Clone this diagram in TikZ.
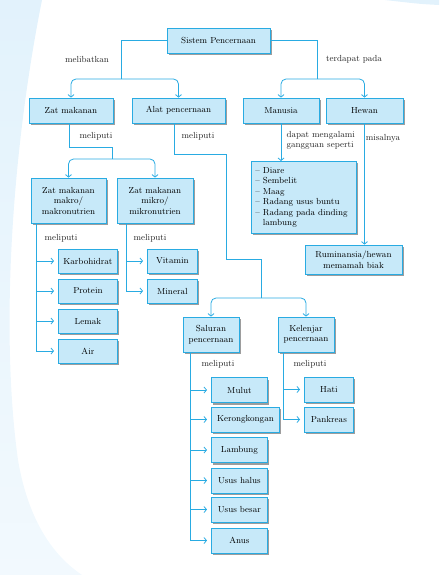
\documentclass[tikz,border=0pt]{standalone}
\usetikzlibrary{arrows.meta,shadows}
\definecolor{birumuda}{RGB}{199,233,249}
\definecolor{birugaris}{RGB}{41,171,226}
\definecolor{birulatar}{RGB}{226,242,252}

\begin{document}
\begin{tikzpicture}[x=1pt,y=-1pt,
    kotak/.style={draw=birugaris,fill=birumuda,line width=0.8pt,inner sep=1pt,align=center,
      font=\fontsize{8.8}{10.5}\selectfont,
      drop shadow={shadow xshift=2pt,shadow yshift=-2pt,opacity=0.55,fill=black!70}},
    ukuran/.style 2 args={minimum width=#1pt,minimum height=#2pt},
    garis/.style={draw=birugaris,line width=0.8pt},
    panah/.style={garis,-{Straight Barb[length=2.5pt,width=6pt]}},
    ket/.style={font=\fontsize{8.8}{10}\selectfont,text=black!85}]
    \useasboundingbox (0,0) rectangle (439,575);
    % latar
    \shade[top color=birulatar,bottom color=birulatar!45] (0,0) -- (42,0) .. controls (12,150) and (0,330) .. (18,460)
      .. controls (30,530) and (60,560) .. (82,575) -- (0,575) -- cycle;
    \fill[birulatar] (385,0) -- (439,0) -- (439,5) .. controls (420,4) .. (385,0);

    % tingkat atas
    \node[kotak,ukuran={103}{25}] (sistem) at (218.5,40.5) {Sistem Pencernaan};
    \node[kotak,ukuran={84}{25}] (zat) at (71,110.5) {Zat makanan};
    \node[kotak,ukuran={93}{25}] (alat) at (178.5,110.5) {Alat pencernaan};
    \node[kotak,ukuran={76}{25}] (manusia) at (281,110.5) {Manusia};
    \node[kotak,ukuran={77}{25}] (hewan) at (364.5,110.5) {Hewan};

    % zat makanan
    \node[kotak,ukuran={75}{45}] (makro) at (68.5,200.5) {Zat makanan\\makro/\\makronutrien};
    \node[kotak,ukuran={76}{45}] (mikro) at (155,200.5) {Zat makanan\\mikro/\\mikronutrien};
    \foreach \nama/\teks/\y in {karbo/Karbohidrat/261,protein/Protein/291,lemak/Lemak/321,air/Air/351}
      \node[kotak,ukuran={59}{24},anchor=west] (\nama) at (58,\y) {\teks};
    \foreach \nama/\teks/\y in {vitamin/Vitamin/261,mineral/Mineral/291}
      \node[kotak,ukuran={50}{24},anchor=west] (\nama) at (147,\y) {\teks};

    % manusia dan hewan
    \node[kotak,anchor=north west,minimum width=105pt,minimum height=72pt,text width=97pt,
      inner sep=4pt,align=left] (penyakit) at (251,161)
      {-- Diare\\-- Sembelit\\-- Maag\\-- Radang usus buntu\\-- Radang pada dinding\\\phantom{-- }lambung};
    \node[kotak,ukuran={97}{29},font=\fontsize{8.8}{11.5}\selectfont] (rumin) at (353.5,259.5)
      {Ruminansia/hewan\\memamah biak};

    % alat pencernaan
    \node[kotak,ukuran={56}{35}] (saluran) at (211,334.5) {Saluran\\pencernaan};
    \node[kotak,ukuran={56}{35}] (kelenjar) at (306,334.5) {Kelenjar\\pencernaan};
    \foreach \nama/\teks/\y/\w in {mulut/Mulut/390/56,kerong/Kerongkongan/419.5/68,
        lambung/Lambung/450/56,halus/Usus halus/480.5/56,besar/Usus besar/509.5/56,anus/Anus/540.5/56}
      \node[kotak,ukuran={\w}{25},anchor=west] (\nama) at (211,\y) {\teks};
    \foreach \nama/\teks/\y in {hati/Hati/389.5,pankreas/Pankreas/419.5}
      \node[kotak,ukuran={49}{25},anchor=west] (\nama) at (304,\y) {\teks};

    % garis dari akar
    \coordinate (cabKiri) at (121,79);
    \coordinate (cabKanan) at (317,79);
    \draw[garis] (sistem.west) -| (cabKiri);
    \draw[garis] (sistem.east) -| (cabKanan);
    \draw[panah,rounded corners=5pt] (cabKiri) -| (zat.north);
    \draw[panah,rounded corners=5pt] (cabKiri) -| (alat.north);
    \draw[panah,rounded corners=5pt] (cabKanan) -| (manusia.north);
    \draw[panah,rounded corners=5pt] (cabKanan) -| (hewan.north);
    \node[ket] at (87,59) {melibatkan};
    \node[ket] at (354,59) {terdapat pada};

    % cabang zat makanan
    \coordinate (belokZat) at (112,147);
    \coordinate (cabZat) at (112,159);
    \draw[garis] ([xshift=-2pt]zat.south) |- (belokZat) -- (cabZat);
    \draw[panah,rounded corners=5pt] (cabZat) -| (makro.north);
    \draw[panah,rounded corners=5pt] (cabZat) -| (mikro.north);
    \node[ket] at (96,136) {meliputi};

    % cabang alat pencernaan
    \coordinate (belokAlat) at (226,154);
    \coordinate (belokAlatB) at (261,259);
    \coordinate (cabAlat) at (261,298);
    \draw[garis] ([xshift=-4pt]alat.south) |- (belokAlat) |- (belokAlatB) -- (cabAlat);
    \draw[panah,rounded corners=5pt] (cabAlat) -| (saluran.north);
    \draw[panah,rounded corners=5pt] (cabAlat) -| (kelenjar.north);
    \node[ket] at (198,136) {meliputi};

    % manusia, hewan
    \draw[panah] (manusia.south) -- (manusia.south |- penyakit.north);
    \draw[panah] (hewan.south) -- (hewan.south |- rumin.north);
    \node[ket,anchor=west,align=left] at (283,140) {dapat mengalami\\gangguan seperti};
    \node[ket] at (383,138) {misalnya};

    % daftar
    \foreach \nama in {karbo,protein,lemak,air}
      \draw[panah,shorten >=4pt] ([xshift=6pt]makro.south west) |- (\nama.west);
    \foreach \nama in {vitamin,mineral}
      \draw[panah,shorten >=4pt] ([xshift=10pt]mikro.south west) |- (\nama.west);
    \foreach \nama in {mulut,kerong,lambung,halus,besar,anus}
      \draw[panah,shorten >=4pt] ([xshift=8pt]saluran.south west) |- (\nama.west);
    \foreach \nama in {hati,pankreas}
      \draw[panah,shorten >=4pt] ([xshift=6pt]kelenjar.south west) |- (\nama.west);
    \node[ket] at (61,238) {meliputi};
    \node[ket] at (150,238) {meliputi};
    \node[ket] at (218,364) {meliputi};
    \node[ket] at (310,364) {meliputi};
\end{tikzpicture}
\end{document}
